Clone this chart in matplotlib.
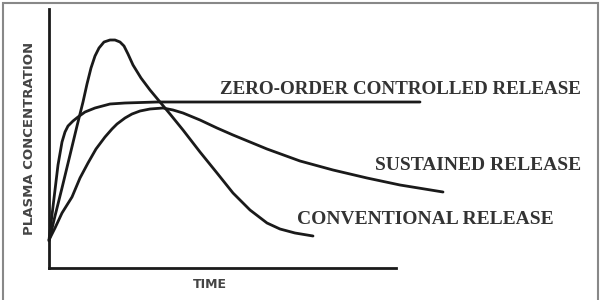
import matplotlib
matplotlib.use("Agg")
import matplotlib.pyplot as plt
from matplotlib.patches import Rectangle

# time / concentration points (arbitrary units)
conv_t = [0, 6, 13, 21, 28, 34, 38, 42, 46, 50, 55, 61, 66, 71, 75, 79, 84, 92, 101, 111, 121,
          134, 151, 168, 184, 201, 218, 231, 246, 264]
conv_c = [27, 52, 80, 113, 142, 166, 184, 200, 212, 220, 226, 228, 228, 226, 222, 214, 203, 190, 178,
          166, 154, 138, 116, 95, 75, 58, 45, 39, 35, 32]

zero_t = [0, 3, 6, 9, 13, 16, 19, 24, 29, 36, 46, 61, 76, 108, 200, 371]
zero_c = [28, 53, 78, 103, 126, 136, 142, 147, 151, 156, 160, 164, 165, 166, 166, 166]

sust_t = [0, 6, 13, 23, 31, 39, 47, 56, 63, 68, 76, 83, 91, 101, 114, 124, 134, 151, 168, 184,
          201, 218, 251, 284, 318, 351, 394]
sust_c = [28, 40, 55, 71, 90, 105, 119, 131, 139, 144, 150, 154, 157, 159, 160, 158, 155, 148, 140,
          133, 126, 119, 107, 98, 90, 83, 76]

labels = ["ZERO-ORDER CONTROLLED RELEASE", "SUSTAINED RELEASE", "CONVENTIONAL RELEASE"]
x_label = "TIME"
y_label = "PLASMA CONCENTRATION"

fig = plt.figure(figsize=(6, 3), dpi=100)
fig.patch.set_facecolor("white")
ax = fig.add_axes([0, 0, 1, 1])
ax.set_xlim(-49, 551)
ax.set_ylim(-32, 268)

line_kw = dict(color="#1a1a1a", lw=2.0, solid_capstyle="round", solid_joinstyle="round")
ax.plot(conv_t, conv_c, **line_kw)
ax.plot(zero_t, zero_c, **line_kw)
ax.plot(sust_t, sust_c, **line_kw)

# axes drawn as plain spines through the origin
for side in ["top", "right"]:
    ax.spines[side].set_visible(False)
ax.spines["left"].set_position(("data", 0))
ax.spines["bottom"].set_position(("data", 0))
ax.spines["left"].set_bounds(0, 259)
ax.spines["bottom"].set_bounds(0, 347)
for side in ["left", "bottom"]:
    ax.spines[side].set_linewidth(2.0)
    ax.spines[side].set_color("#1a1a1a")
ax.set_xticks([])
ax.set_yticks([])
ax.patch.set_alpha(0)

txt_kw = dict(family="Liberation Serif", fontweight="bold", color="#333333", va="center", ha="left")
ax.text(171, 179, labels[0], fontsize=13.7, **txt_kw)
ax.text(326, 103, labels[1], fontsize=14, **txt_kw)
ax.text(248, 48, labels[2], fontsize=14, **txt_kw)

ax.text(-19, 130, y_label, rotation=90, ha="center", va="center",
        fontsize=9.5, fontweight="bold", color="#444444", family="DejaVu Sans")
ax.text(161, -17, x_label, ha="center", va="center",
        fontsize=9, fontweight="bold", color="#444444", family="DejaVu Sans")

# grey frame round the picture
fig.patches.append(Rectangle((3 / 600, -0.02), 595 / 600, 1 - 2.5 / 300 + 0.02,
                             transform=fig.transFigure, fill=False,
                             edgecolor="#888888", lw=1.5))

fig.savefig("out.png", dpi=100)
